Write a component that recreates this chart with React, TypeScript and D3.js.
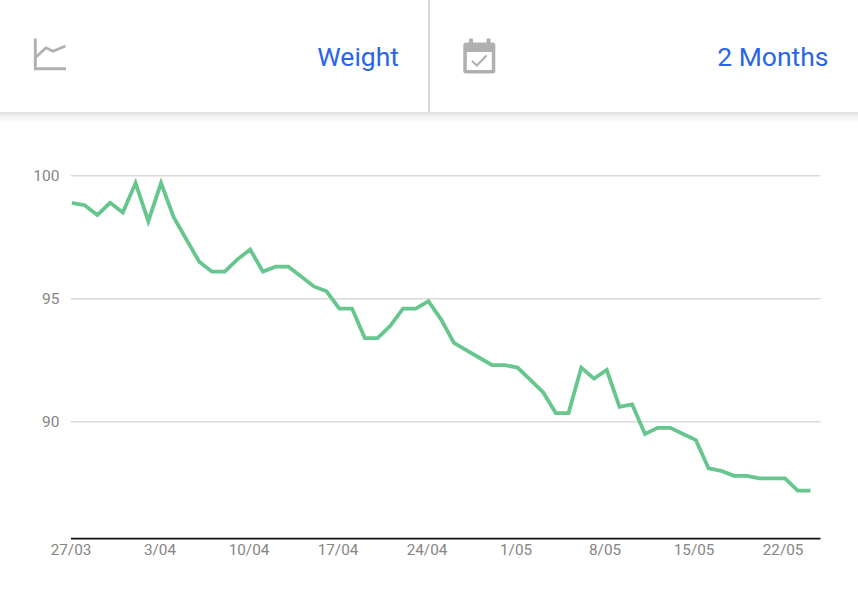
import React from "react";
import * as d3 from "d3";

const startDate = new Date(2021, 2, 27);
const weights = [
  98.9, 98.8, 98.4, 98.9, 98.5, 99.7, 98.15, 99.7, 98.3, 97.4,
  96.5, 96.1, 96.1, 96.6, 97.0, 96.1, 96.3, 96.3, 95.9, 95.5,
  95.3, 94.6, 94.6, 93.4, 93.4, 93.9, 94.6, 94.6, 94.9, 94.15,
  93.2, 92.9, 92.6, 92.3, 92.3, 92.2, 91.7, 91.2, 90.35, 90.35,
  92.2, 91.75, 92.1, 90.6, 90.7, 89.5, 89.75, 89.75, 89.5, 89.25,
  88.1, 88.0, 87.8, 87.8, 87.7, 87.7, 87.7, 87.2, 87.2,
];
const yTicks = [100, 95, 90];
const tickEvery = 7;
const metricLabel = "Weight";
const rangeLabel = "2 Months";

const WIDTH = 858;
const HEIGHT = 600;
const FONT = "Roboto, sans-serif";
const ICON = "#b0b0b0";
const BLUE = "#2a66e6";

export default function App() {
  const dates = weights.map((_, i) => d3.timeDay.offset(startDate, i));
  const domain: [Date, Date] = [dates[0], dates[dates.length - 1]];
  const x = d3.scaleTime().domain(domain).range([71.9, 810.5]);
  const xLabel = d3.scaleTime().domain(domain).range([71, 808.5]);
  const y = d3.scaleLinear().domain([100, 90]).range([175.7, 421.7]);
  const line = d3
    .line<number>()
    .x((_, i) => x(dates[i]))
    .y((d) => y(d))
    .curve(d3.curveLinear);
  const tickDates = dates.filter((_, i) => i % tickEvery === 0);
  const fmt = (d: Date) => `${d.getDate()}/${String(d.getMonth() + 1).padStart(2, "0")}`;

  return (
    <svg
      width={WIDTH}
      height={HEIGHT}
      viewBox={`0 0 ${WIDTH} ${HEIGHT}`}
      style={{ position: "absolute", left: 0, top: 0, background: "#fff" }}
    >
      <defs>
        <linearGradient id="hdrShadow" x1="0" y1="0" x2="0" y2="1">
          <stop offset="0" stopColor="#000" stopOpacity={0.13} />
          <stop offset="0.35" stopColor="#000" stopOpacity={0.05} />
          <stop offset="1" stopColor="#000" stopOpacity={0} />
        </linearGradient>
      </defs>

      <rect x={0} y={112} width={WIDTH} height={12} fill="url(#hdrShadow)" />
      <rect x={428} y={0} width={2} height={112} fill="#d6d6d6" />

      <g fill="none" stroke={ICON}>
        <path d="M35.3 38.5V68.8H66" strokeWidth={2.9} />
        <path d="M35.5 57.5L46 47.8L53 51.2L65.5 46" strokeWidth={2.7} />
      </g>
      <g>
        <rect x={463.3} y={42.5} width={32} height={31} rx={2.5} fill={ICON} />
        <rect x={469} y={38.5} width={4} height={6} rx={1} fill={ICON} />
        <rect x={486.5} y={38.5} width={4} height={6} rx={1} fill={ICON} />
        <rect x={466.8} y={52} width={25} height={18} fill="#fff" />
        <path d="M472 61L476.8 65.5L486.5 55.5" fill="none" stroke={ICON} strokeWidth={2.2} />
      </g>

      <text x={399} y={65.7} textAnchor="end" fontFamily={FONT} fontSize={26.5} fill={BLUE}>
        {metricLabel}
      </text>
      <text x={828.5} y={65.7} textAnchor="end" fontFamily={FONT} fontSize={26.5} fill={BLUE}>
        {rangeLabel}
      </text>

      {yTicks.map((t) => (
        <g key={t}>
          <line x1={71} x2={820.5} y1={y(t)} y2={y(t)} stroke="#d9d9d9" strokeWidth={1.5} />
          <text x={59.5} y={y(t) + 5} textAnchor="end" fontFamily={FONT} fontSize={15.5} fill="#858585">
            {t}
          </text>
        </g>
      ))}

      <path
        d={line(weights) ?? ""}
        fill="none"
        stroke="#66c68e"
        strokeWidth={3.8}
        strokeLinejoin="miter"
      />

      <line x1={71} x2={820.5} y1={538.7} y2={538.7} stroke="#111" strokeWidth={1.7} />
      {tickDates.map((d) => (
        <text
          key={+d}
          x={xLabel(d)}
          y={555}
          textAnchor="middle"
          fontFamily={FONT}
          fontSize={15.3}
          fill="#858585"
        >
          {fmt(d)}
        </text>
      ))}
    </svg>
  );
}
